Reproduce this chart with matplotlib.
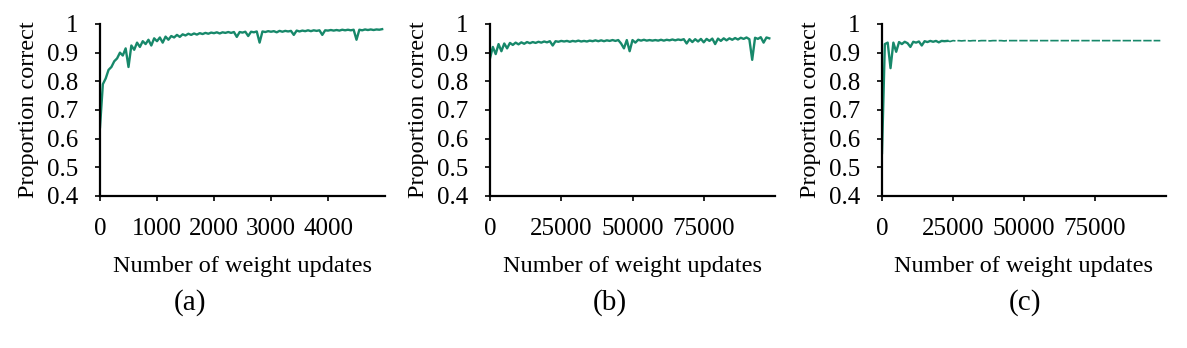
import numpy as np
import matplotlib.pyplot as plt

plt.rcParams['font.family'] = ['Liberation Serif', 'DejaVu Serif']

green = '#17886a'

# (a) checkpoints every 50 weight updates
x_a = np.arange(0, 5000, 50)
acc_a = [0.64, 0.79, 0.81, 0.84, 0.85, 0.87, 0.88, 0.90, 0.89, 0.915,
         0.85, 0.925, 0.91, 0.935, 0.92, 0.94, 0.93, 0.945, 0.925, 0.95,
         0.94, 0.953, 0.935, 0.956, 0.945, 0.958, 0.953, 0.962, 0.955, 0.964,
         0.96, 0.966, 0.962, 0.967, 0.963, 0.968, 0.965, 0.969, 0.966, 0.97,
         0.968, 0.971, 0.967, 0.971, 0.969, 0.972, 0.969, 0.972, 0.955, 0.972,
         0.97, 0.973, 0.958, 0.973, 0.971, 0.974, 0.935, 0.974, 0.972, 0.975,
         0.973, 0.975, 0.971, 0.976, 0.973, 0.976, 0.974, 0.976, 0.962, 0.977,
         0.974, 0.977, 0.975, 0.978, 0.975, 0.978, 0.976, 0.978, 0.962, 0.978,
         0.977, 0.979, 0.977, 0.979, 0.977, 0.98, 0.978, 0.98, 0.978, 0.98,
         0.945, 0.98, 0.978, 0.981, 0.979, 0.981, 0.979, 0.981, 0.98, 0.982]

# (b) checkpoints every 1000 weight updates
x_b = np.arange(0, 99000, 1000)
acc_b = [0.88, 0.92, 0.895, 0.93, 0.905, 0.932, 0.915, 0.934, 0.927, 0.935,
         0.929, 0.936, 0.931, 0.937, 0.933, 0.937, 0.934, 0.938, 0.935, 0.939,
         0.936, 0.94, 0.925, 0.94, 0.938, 0.941, 0.939, 0.941, 0.938, 0.941,
         0.939, 0.942, 0.939, 0.941, 0.939, 0.942, 0.94, 0.943, 0.94, 0.943,
         0.94, 0.943, 0.941, 0.944, 0.941, 0.944, 0.932, 0.915, 0.944, 0.905,
         0.944, 0.935, 0.945, 0.942, 0.945, 0.942, 0.944, 0.942, 0.944, 0.942,
         0.945, 0.942, 0.945, 0.943, 0.946, 0.943, 0.946, 0.944, 0.947, 0.932,
         0.947, 0.937, 0.947, 0.939, 0.948, 0.936, 0.948, 0.941, 0.949, 0.93,
         0.949, 0.941, 0.95, 0.943, 0.95, 0.945, 0.951, 0.946, 0.952, 0.948,
         0.953, 0.947, 0.875, 0.952, 0.948, 0.954, 0.935, 0.953, 0.95]

# (c) checkpoints every 1000 weight updates
x_c = np.arange(0, 99000, 1000)
acc_c = [0.55, 0.93, 0.935, 0.846, 0.935, 0.903, 0.937, 0.93, 0.938, 0.933,
         0.92, 0.938, 0.935, 0.939, 0.925, 0.94, 0.937, 0.941, 0.938, 0.941,
         0.936, 0.941, 0.94, 0.941, 0.939, 0.942, 0.941, 0.942, 0.941, 0.942,
         0.942, 0.941, 0.942, 0.942, 0.941, 0.942, 0.942, 0.942, 0.941, 0.942,
         0.942, 0.942, 0.942, 0.941, 0.942, 0.942, 0.942, 0.942, 0.942, 0.942,
         0.942, 0.942, 0.942, 0.942, 0.942, 0.942, 0.942, 0.942, 0.942, 0.942,
         0.942, 0.942, 0.942, 0.942, 0.942, 0.942, 0.942, 0.942, 0.942, 0.942,
         0.942, 0.942, 0.942, 0.942, 0.942, 0.942, 0.942, 0.942, 0.942, 0.942,
         0.942, 0.942, 0.942, 0.942, 0.942, 0.942, 0.942, 0.942, 0.942, 0.942,
         0.942, 0.942, 0.942, 0.942, 0.942, 0.942, 0.942, 0.942, 0.942]

yticks = [0.4, 0.5, 0.6, 0.7, 0.8, 0.9, 1.0]
yticklabels = ['0.4', '0.5', '0.6', '0.7', '0.8', '0.9', '1']
xticks_a = [0, 1000, 2000, 3000, 4000]
xticks_bc = [0, 25000, 50000, 75000]
panel_labels = ['(a)', '(b)', '(c)']

W, H = 1187, 348
fig = plt.figure(figsize=(W/100, H/100), dpi=100)

lefts = [100, 490, 882]
rights = [385, 775, 1166]
top, bottom = 24, 196
label_x = [190, 610, 1025]

axes = []
for l, r in zip(lefts, rights):
    ax = fig.add_axes([l/W, 1-bottom/H, (r-l)/W, (bottom-top)/H])
    axes.append(ax)

axes[0].plot(x_a, acc_a, color=green, lw=1.7)
axes[0].set_xlim(0, 5000)
axes[0].set_xticks(xticks_a)

axes[1].plot(x_b, acc_b, color=green, lw=1.7)
axes[1].set_xlim(0, 100000)
axes[1].set_xticks(xticks_bc)

# early noisy part solid, flat tail drawn broken as in the original
axes[2].plot(x_c[:24], acc_c[:24], color=green, lw=1.7)
axes[2].plot(x_c[23:], acc_c[23:], color=green, lw=1.2, dashes=(5, 1.2))
axes[2].set_xlim(0, 100000)
axes[2].set_xticks(xticks_bc)

for ax in axes:
    ax.set_ylim(0.4, 1.0)
    ax.set_yticks(yticks)
    ax.set_yticklabels(yticklabels)
    ax.spines['top'].set_visible(False)
    ax.spines['right'].set_visible(False)
    for s in ['left', 'bottom']:
        ax.spines[s].set_linewidth(1.6)
    ax.tick_params(direction='out', length=3.5, width=1.2, labelsize=18)
    ax.tick_params(axis='y', pad=12)
    ax.tick_params(axis='x', pad=12)
    ax.set_ylabel('Proportion correct', fontsize=17.5, labelpad=6)
    ax.set_xlabel('Number of weight updates', fontsize=17.5, labelpad=12)

for lx, t in zip(label_x, panel_labels):
    fig.text(lx/W, 1-303/H, t, fontsize=21, ha='center', va='center')

fig.savefig('out.png', dpi=100)
